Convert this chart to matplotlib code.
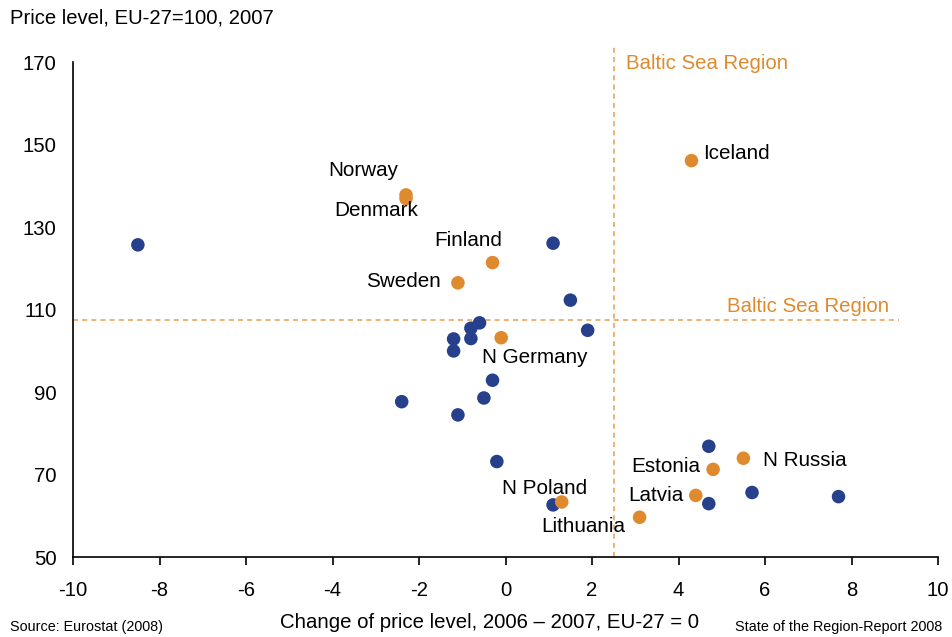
import matplotlib
matplotlib.use("Agg")
import matplotlib.pyplot as plt

plt.rcParams['font.family'] = ['Liberation Sans', 'DejaVu Sans']
plt.rcParams['axes.unicode_minus'] = False

# Other EU regions (blue)
other_x = [-8.5, 1.1, 1.5, 1.9, -0.6, -0.8, -0.8, -1.2, -1.2, -0.3, -0.5, -2.4, -1.1, -0.2, 1.1, 4.7, 4.7, 5.7, 7.7]
other_y = [125.7, 126.1, 112.3, 105.0, 106.8, 105.5, 103.0, 102.9, 100.0, 92.9, 88.6, 87.7, 84.5, 73.2, 62.7, 76.9, 63.0, 65.7, 64.7]

# Baltic Sea Region members (orange)
bsr_names = ["Norway", "Denmark", "Finland", "Sweden", "Iceland", "N Germany",
             "Estonia", "N Russia", "N Poland", "Latvia", "Lithuania"]
bsr_x = [-2.3, -2.3, -0.3, -1.1, 4.3, -0.1, 4.8, 5.5, 1.3, 4.4, 3.1]
bsr_y = [137.8, 136.9, 121.4, 116.5, 146.1, 103.2, 71.3, 74.0, 63.4, 65.0, 59.7]

# Baltic Sea Region averages
bsr_avg_x = 2.5
bsr_avg_y = 107.5

x_ticks = [-10, -8, -6, -4, -2, 0, 2, 4, 6, 8, 10]
y_ticks = [50, 70, 90, 110, 130, 150, 170]

# label placement (offset in pixels, alignment)
label_style = {
    "Norway":    (-43, 19, "center"),
    "Denmark":   (-29.5, -17.7, "center"),
    "Finland":   (-24.7, 16.7, "center"),
    "Sweden":    (-17.3, -4.6, "right"),
    "Iceland":   (11.6, 1.4, "left"),
    "N Germany": (-19.3, -25.6, "left"),
    "Estonia":   (-13.3, -2.4, "right"),
    "N Russia":  (19.6, -7.4, "left"),
    "N Poland":  (25, 8, "right"),
    "Latvia":    (-12.7, -5.4, "right"),
    "Lithuania": (-14, -14.4, "right"),
}

BLUE = "#26408B"
ORANGE = "#DF8A2F"
DASH = "#E8A661"

fig = plt.figure(figsize=(9.52, 6.37), dpi=100)
ax = fig.add_axes([73/952, 1-557.3/637, (938-73)/952, (557.3-62)/637])

ax.set_xlim(-10, 10)
ax.set_ylim(50, 170)

ax.plot([-10, 9.1], [bsr_avg_y, bsr_avg_y], color=DASH, lw=1.2, ls=(0, (3, 2.5)), clip_on=False, zorder=1)
ax.plot([bsr_avg_x, bsr_avg_x], [50, 173.7], color=DASH, lw=1.2, ls=(0, (3, 2.5)), clip_on=False, zorder=1)

ax.scatter(other_x, other_y, s=95, color=BLUE, edgecolors='none', zorder=3, clip_on=False)
ax.scatter(bsr_x, bsr_y, s=95, color=ORANGE, edgecolors='none', zorder=3, clip_on=False)

for name, x, y in zip(bsr_names, bsr_x, bsr_y):
    dx, dy, ha = label_style[name]
    ax.annotate(name, (x, y), xytext=(dx*0.72, dy*0.72), textcoords='offset points',
                ha=ha, va='baseline', fontsize=14.9, color='black', zorder=4)

ax.text(2.78, 168.3, "Baltic Sea Region", color=ORANGE, fontsize=14.7, ha='left', va='baseline')
ax.text(5.13, 109.5, "Baltic Sea Region", color=ORANGE, fontsize=14.7, ha='left', va='baseline')

for s in ['top', 'right']:
    ax.spines[s].set_visible(False)
for s in ['left', 'bottom']:
    ax.spines[s].set_linewidth(1.2)
    ax.spines[s].set_color('black')

ax.set_xticks(x_ticks)
ax.set_yticks(y_ticks)
ax.set_xticklabels([str(t) for t in x_ticks])
ax.set_yticklabels([str(t) for t in y_ticks])
ax.tick_params(axis='x', direction='out', length=6, width=1.2, pad=11, labelsize=14.6)
ax.tick_params(axis='y', length=0, pad=12, labelsize=14.6)

fig.text(10/952, 1-24/637, "Price level, EU-27=100, 2007", fontsize=14.6, ha='left', va='baseline')
fig.text(280/952, 1-628/637, "Change of price level, 2006 \u2013 2007, EU-27 = 0", fontsize=14.7, ha='left', va='baseline')
fig.text(10/952, 1-631/637, "Source: Eurostat (2008)", fontsize=10.4, ha='left', va='baseline')
fig.text(942/952, 1-631/637, "State of the Region-Report 2008", fontsize=10.4, ha='right', va='baseline')

fig.savefig("out.png", dpi=100)
